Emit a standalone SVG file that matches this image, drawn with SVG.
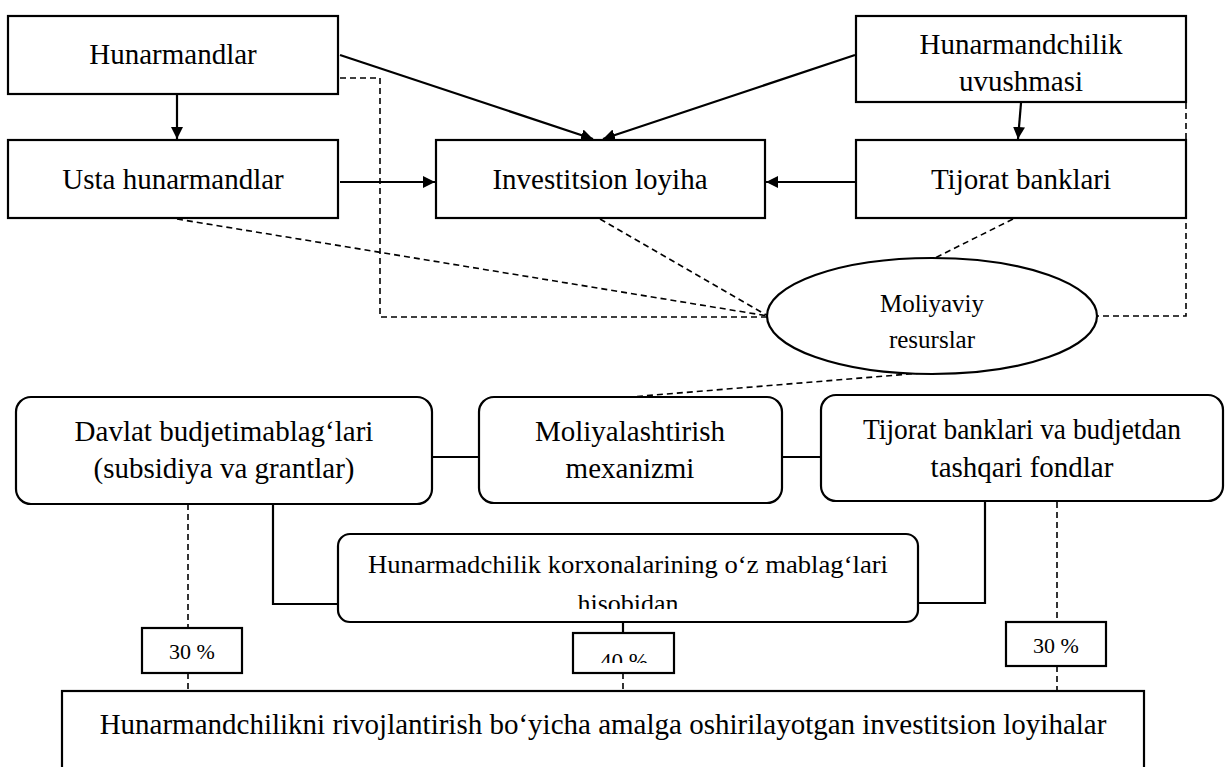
<svg xmlns="http://www.w3.org/2000/svg" width="1230" height="767" viewBox="0 0 1230 767">
<style>
.box{fill:#fff;stroke:#000;stroke-width:2.2}
.t{font-family:"Liberation Serif","Times New Roman",serif;font-size:29px;fill:#000;text-anchor:middle}
.s{font-size:22px}
.e{font-size:25px}
.ln{fill:none;stroke:#000;stroke-width:2.2}
.d{fill:none;stroke:#000;stroke-width:1.6;stroke-dasharray:6 4}
</style>
<defs>
<marker id="ah" viewBox="0 0 12 12" refX="12" refY="6" markerWidth="12" markerHeight="12" markerUnits="userSpaceOnUse" orient="auto">
<path d="M0,0 L12,6 L0,12 Z" fill="#000"/>
</marker>
<clipPath id="c1"><rect x="338" y="534" width="580" height="75"/></clipPath>
<clipPath id="c2"><rect x="573" y="633" width="101" height="30"/></clipPath>
</defs>
<g id="connectors">
<line class="ln" x1="177" y1="95" x2="177" y2="139" marker-end="url(#ah)"/>
<line class="ln" x1="340" y1="55" x2="593" y2="139" marker-end="url(#ah)"/>
<line class="ln" x1="855" y1="55" x2="603" y2="139" marker-end="url(#ah)"/>
<line class="ln" x1="340" y1="182" x2="435" y2="182" marker-end="url(#ah)"/>
<line class="ln" x1="855" y1="182" x2="766" y2="182" marker-end="url(#ah)"/>
<line class="ln" x1="1021" y1="103" x2="1018" y2="139" marker-end="url(#ah)"/>
<polyline class="d" points="340,78 380,78 380,317 768,317"/>
<line class="d" x1="177" y1="219" x2="768" y2="316"/>
<line class="d" x1="600" y1="219" x2="768" y2="316"/>
<line class="d" x1="1013" y1="219" x2="935" y2="258"/>
<polyline class="d" points="1186,103 1186,316 1098,316"/>
<line class="d" x1="922" y1="373" x2="630" y2="397"/>
<line class="ln" x1="432" y1="457" x2="479" y2="457"/>
<line class="ln" x1="782" y1="457" x2="821" y2="457"/>
<polyline class="ln" points="273,504 273,604 338,604"/>
<polyline class="ln" points="985,502 985,603 918,603"/>
<line class="d" x1="188" y1="504" x2="188" y2="628"/>
<line class="d" x1="188" y1="673" x2="188" y2="694"/>
<line class="d" x1="1057" y1="502" x2="1057" y2="622"/>
<line class="d" x1="1057" y1="666" x2="1057" y2="694"/>
<line class="ln" x1="623" y1="622" x2="623" y2="633"/>
<line class="d" x1="623" y1="673" x2="623" y2="692"/>
</g>
<g id="hunarmandlar"><rect class="box" x="8" y="16" width="330" height="78"/><text class="t" x="173" y="64">Hunarmandlar</text></g>
<g id="usta"><rect class="box" x="8" y="140" width="330" height="78"/><text class="t" x="173" y="189">Usta hunarmandlar</text></g>
<g id="investitsion"><rect class="box" x="436" y="140" width="329" height="78"/><text class="t" x="600" y="189">Investitsion loyiha</text></g>
<g id="uvushma"><rect class="box" x="856" y="16" width="330" height="86"/><text class="t" x="1021" y="54">Hunarmandchilik</text><text class="t" x="1021" y="91">uvushmasi</text></g>
<g id="tijorat"><rect class="box" x="856" y="140" width="330" height="78"/><text class="t" x="1021" y="189">Tijorat banklari</text></g>
<g id="moliyaviy"><ellipse class="box" cx="932" cy="316" rx="165" ry="58"/><text class="t e" x="932" y="312">Moliyaviy</text><text class="t e" x="932" y="348">resurslar</text></g>
<g id="davlat"><rect class="box" x="16" y="397" width="416" height="107" rx="15"/><text class="t" x="224" y="441">Davlat budjetimablag‘lari</text><text class="t" x="224" y="478">(subsidiya va grantlar)</text></g>
<g id="mexanizm"><rect class="box" x="479" y="397" width="303" height="106" rx="15"/><text class="t" x="630" y="441">Moliyalashtirish</text><text class="t" x="630" y="478">mexanizmi</text></g>
<g id="fondlar"><rect class="box" x="821" y="395" width="402" height="106" rx="15"/><text class="t" x="1022" y="439" textLength="318" lengthAdjust="spacingAndGlyphs">Tijorat banklari va budjetdan</text><text class="t" x="1022" y="477">tashqari fondlar</text></g>
<g id="ozmablag"><rect class="box" x="338" y="534" width="580" height="88" rx="12"/><text class="t" x="628" y="573" style="font-size:26px" textLength="520" lengthAdjust="spacingAndGlyphs">Hunarmadchilik korxonalarining o‘z mablag‘lari</text><text class="t" x="628" y="612" style="font-size:26px" clip-path="url(#c1)">hisobidan</text></g>
<g id="p30a"><rect class="box" x="142" y="628" width="100" height="45"/><text class="t s" x="192" y="659">30 %</text></g>
<g id="p40"><rect class="box" x="573" y="633" width="101" height="40"/><text class="t s" x="624" y="669" style="font-size:23px" clip-path="url(#c2)">40 %</text></g>
<g id="p30b"><rect class="box" x="1006" y="622" width="100" height="44"/><text class="t s" x="1056" y="653">30 %</text></g>
<g id="loyihalar"><rect class="box" x="62" y="691" width="1082" height="100"/><text class="t" x="603" y="734">Hunarmandchilikni rivojlantirish bo‘yicha amalga oshirilayotgan investitsion loyihalar</text></g>
</svg>
